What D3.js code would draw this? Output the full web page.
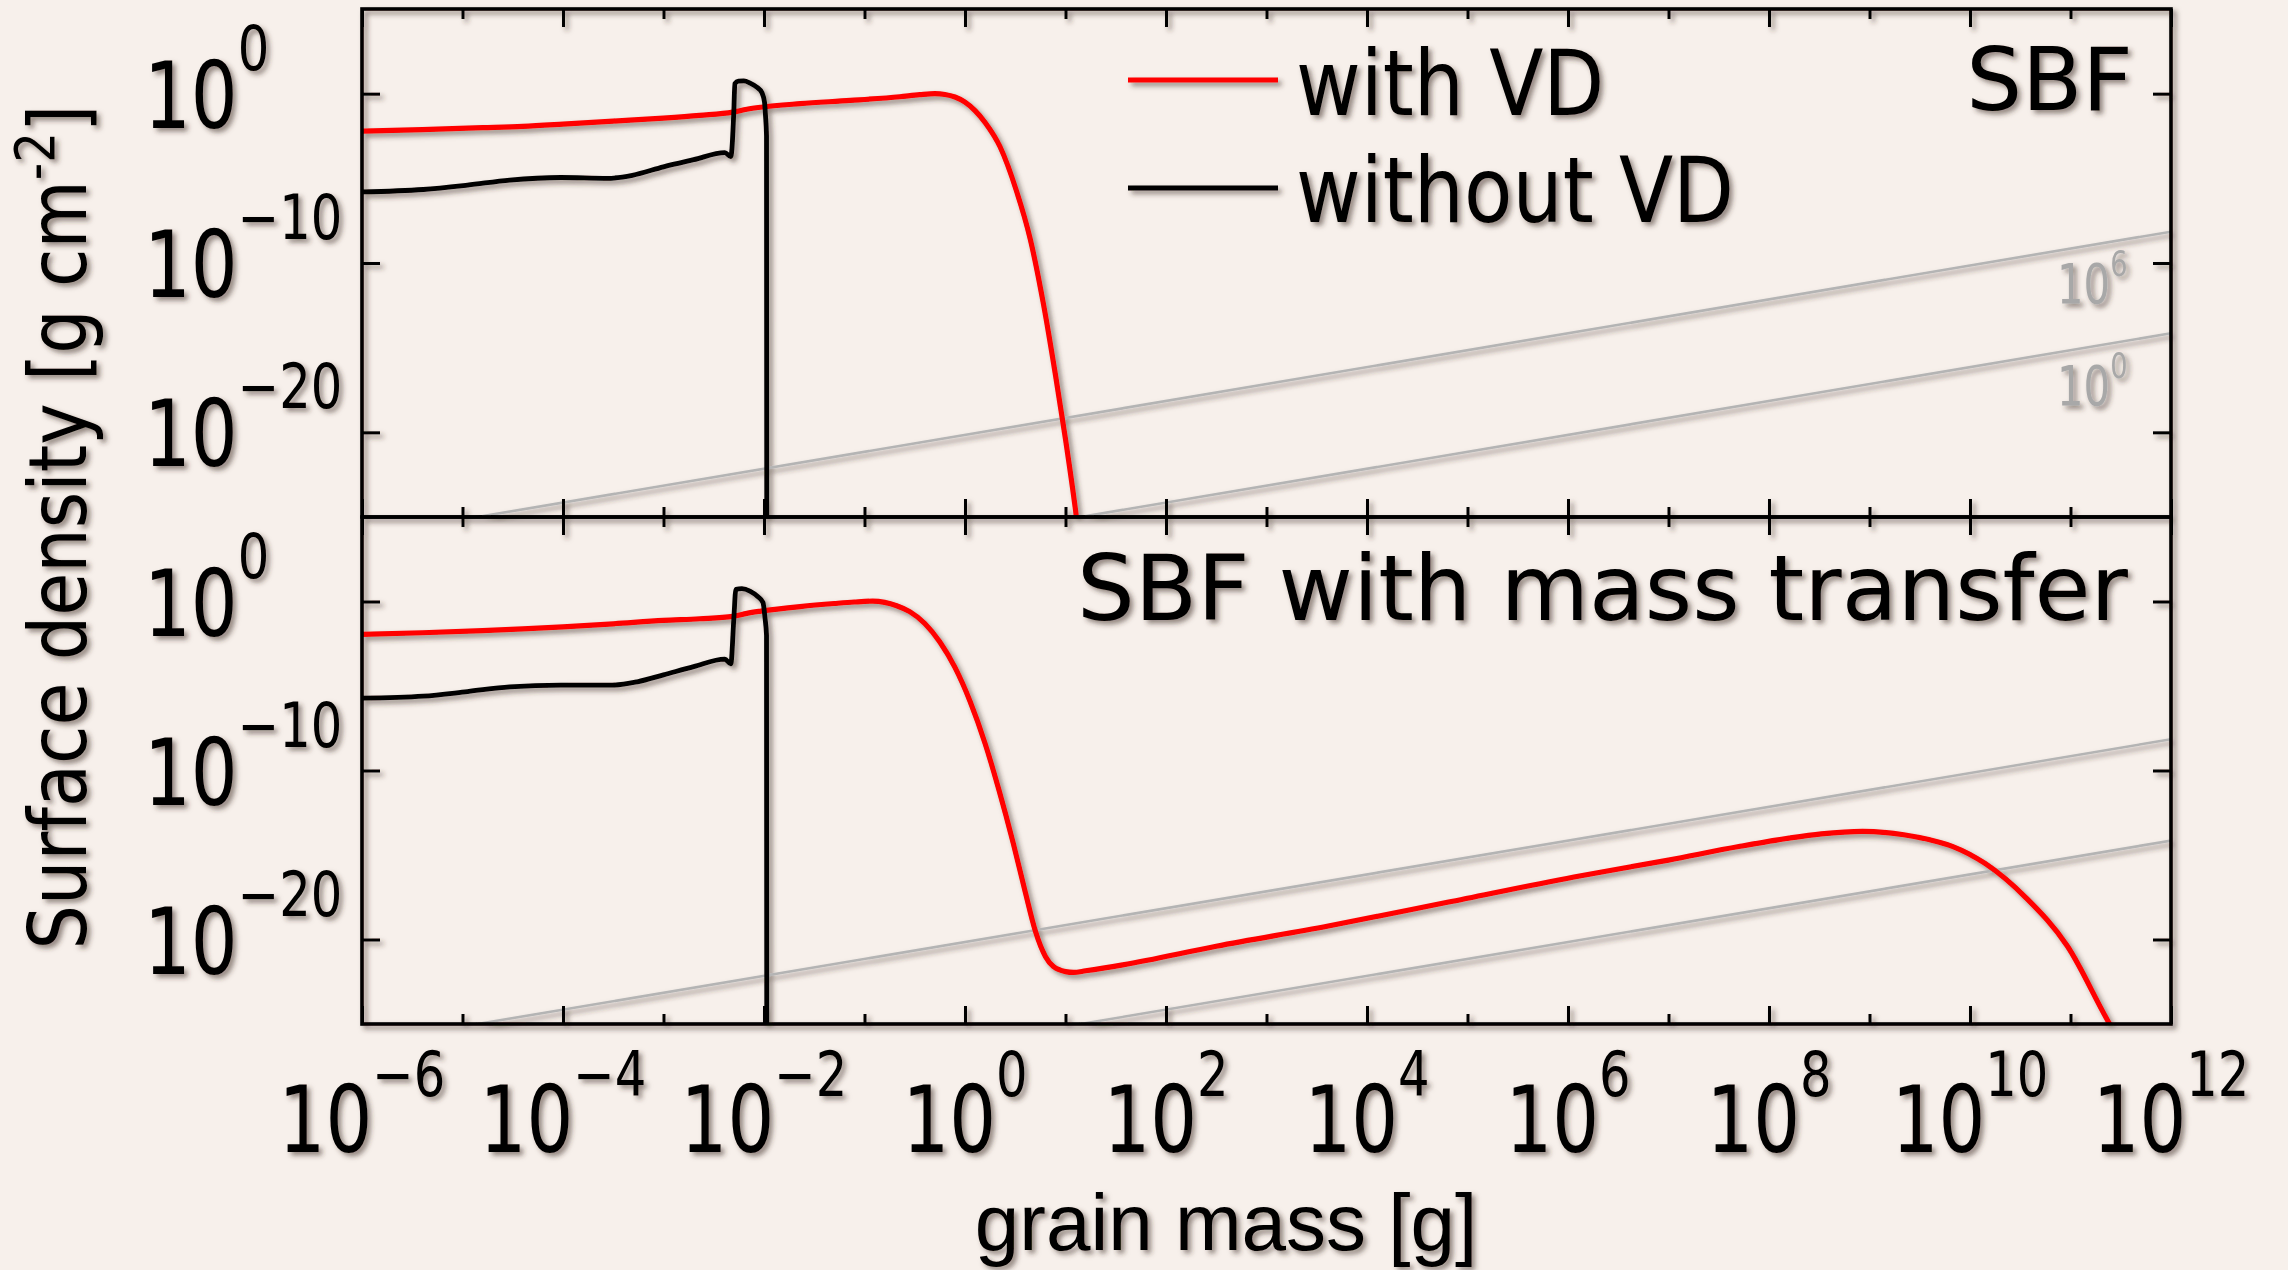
<!DOCTYPE html>
<html><head><meta charset="utf-8">
<script src="https://cdn.jsdelivr.net/npm/d3@7"></script>
<style>html,body{margin:0;padding:0;background:#f7f0eb;} svg{display:block}</style>
</head><body>
<svg id="chart" width="2288" height="1270"></svg>
<script>
// ---------- data (log10 of grain mass [g], log10 of surface density [g cm^-2]) ----------
const xTickExponents = [-6, -4, -2, 0, 2, 4, 6, 8, 10, 12];
const xMinorExponents = [-5, -3, -1, 1, 3, 5, 7, 9, 11];
const yTickExponents = [0, -10, -20];
const legendLabels = ["with VD", "without VD"];
const panelTitles = ["SBF", "SBF with mass transfer"];
const xAxisTitle = "grain mass [g]";
const yAxisTitle = "Surface density [g cm";
const refLineLabels = ["6", "0"];

const topWithVD = [[-6.0,-2.22],[-5.4,-2.12],[-4.8,-2.01],[-4.4,-1.93],[-4.0,-1.80],[-3.5,-1.62],[-3.0,-1.44],
  [-2.64,-1.28],[-2.31,-1.09],[-2.17,-0.92],[-2.03,-0.80],[-1.64,-0.59],[-1.14,-0.40],[-0.65,-0.18],
  [-0.45,-0.06],[-0.3,0.0],[-0.2,-0.05],[-0.1,-0.2],[0.0,-0.5],[0.1,-1.0],[0.2,-1.7],[0.35,-3.15],[0.51,-5.7],[0.65,-8.6],
  [0.78,-12.4],[0.9,-16.6],[1.0,-20.4],[1.1,-24.6],[1.16,-27.5]];
const topWithoutVD = [[-6.0,-5.80],[-5.39,-5.66],[-4.95,-5.40],[-4.53,-5.10],[-4.02,-4.95],[-3.56,-5.0],
  [-3.31,-4.82],[-3.0,-4.32],[-2.7,-3.9],[-2.39,-3.48],[-2.33,-3.72],[-2.30,-1.0],[-2.29,0.59],[-2.255,0.74],
  [-2.2,0.75],[-2.14,0.63],[-2.07,0.38],[-2.02,0.05],[-1.995,-0.5],[-1.985,-1.3],[-1.975,-2.5],[-1.972,-30]];
const bottomWithVD = [[-6.0,-1.95],[-5.4,-1.85],[-4.8,-1.72],[-4.4,-1.62],[-4.0,-1.5],[-3.5,-1.32],[-3.0,-1.12],
  [-2.64,-1.02],[-2.31,-0.88],[-2.17,-0.70],[-2.03,-0.57],[-1.64,-0.30],[-1.3,-0.12],[-1.1,-0.03],[-0.92,0.02],
  [-0.8,-0.05],[-0.68,-0.25],[-0.55,-0.6],[-0.4,-1.3],[-0.25,-2.4],[-0.1,-3.9],[0.05,-5.9],[0.2,-8.4],
  [0.34,-11.2],[0.48,-14.3],[0.6,-17.2],[0.7,-19.5],[0.8,-21.0],[0.88,-21.6],[1.0,-21.9],[1.08,-21.95],
  [1.2,-21.85],[1.57,-21.5],[2.5,-20.4],[3.615,-19.2],[4.8,-17.8],[6.06,-16.3],[7.0,-15.3],[7.7,-14.5],
  [8.2,-14.0],[8.52,-13.75],[8.93,-13.6],[9.34,-13.8],[9.6,-14.1],[9.83,-14.5],[10.15,-15.5],[10.56,-17.55],
  [10.97,-20.4],[11.39,-25.0],[11.45,-25.6]];
const bottomWithoutVD = [[-6.0,-5.72],[-5.39,-5.6],[-4.95,-5.33],[-4.53,-5.05],[-4.02,-4.95],[-3.51,-4.95],
  [-3.26,-4.75],[-3.0,-4.34],[-2.7,-3.85],[-2.39,-3.41],[-2.33,-3.69],[-2.30,-1.0],[-2.28,0.72],[-2.22,0.76],
  [-2.14,0.62],[-2.06,0.28],[-2.01,-0.06],[-1.99,-0.98],[-1.975,-2.0],[-1.972,-30]];
const refLineUpper = [[-6, -26.15], [12, -8.15]];
const refLineLower = [[-6, -32.15], [12, -14.15]];

// ---------- drawing ----------
const W = 2288, H = 1270;
const svg = d3.select("#chart");
svg.append("rect").attr("width", W).attr("height", H).attr("fill", "#f7f0eb");
const defs = svg.append("defs");
const filt = defs.append("filter").attr("id", "shadow").attr("filterUnits", "userSpaceOnUse")
  .attr("x", 0).attr("y", 0).attr("width", W).attr("height", H);
filt.append("feDropShadow").attr("dx", 3.5).attr("dy", 3.5).attr("stdDeviation", 2.5)
  .attr("flood-color", "#3e3028").attr("flood-opacity", 0.55);

const root = svg.append("g").attr("filter", "url(#shadow)");
const left = 362, right = 2171;
const x = d3.scaleLog().domain([1e-6, 1e12]).range([left, right]);

const panels = [
  {top: 9, bottom: 517, red: topWithVD, black: topWithoutVD},
  {top: 517, bottom: 1024, red: bottomWithVD, black: bottomWithoutVD}
];

const supText = e => (e < 0 ? "\u2212" + (-e) : String(e));

panels.forEach((p, i) => {
  const y = d3.scaleLog().domain([1e-25, 1e5]).range([p.bottom, p.top]);
  const clipId = "clip" + i;
  defs.append("clipPath").attr("id", clipId).append("rect")
    .attr("x", left).attr("y", p.top).attr("width", right - left).attr("height", p.bottom - p.top);
  const line = d3.line().x(d => x(Math.pow(10, d[0]))).y(d => y(Math.pow(10, d[1]))).curve(d3.curveMonotoneX);
  const g = root.append("g");
  const pg = g.append("g").attr("clip-path", `url(#${clipId})`);
  [refLineUpper, refLineLower].forEach(r => {
    pg.append("path").attr("d", d3.line().x(d => x(Math.pow(10, d[0]))).y(d => y(Math.pow(10, d[1])))(r))
      .attr("fill", "none").attr("stroke", "#b4b4b4").attr("stroke-width", 2.6);
  });
  pg.append("path").attr("d", line(p.red)).attr("fill", "none").attr("stroke", "#ff0000")
    .attr("stroke-width", 5.2).attr("stroke-linejoin", "round");
  pg.append("path").attr("d", line(p.black)).attr("fill", "none").attr("stroke", "#000")
    .attr("stroke-width", 4.8).attr("stroke-linejoin", "round");

  // axes (ticks inward)
  const styleAx = sel => { sel.select(".domain").remove(); sel.selectAll("line").attr("stroke", "#000").attr("stroke-width", 3); };
  const xt = xTickExponents.map(e => Math.pow(10, e)), xm = xMinorExponents.map(e => Math.pow(10, e));
  g.append("g").attr("transform", `translate(0,${p.bottom})`).call(d3.axisBottom(x).tickValues(xt).tickSizeInner(-18).tickSizeOuter(0).tickFormat("")).call(styleAx);
  g.append("g").attr("transform", `translate(0,${p.bottom})`).call(d3.axisBottom(x).tickValues(xm).tickSizeInner(-10).tickSizeOuter(0).tickFormat("")).call(styleAx);
  g.append("g").attr("transform", `translate(0,${p.top})`).call(d3.axisTop(x).tickValues(xt).tickSizeInner(-18).tickSizeOuter(0).tickFormat("")).call(styleAx);
  g.append("g").attr("transform", `translate(0,${p.top})`).call(d3.axisTop(x).tickValues(xm).tickSizeInner(-10).tickSizeOuter(0).tickFormat("")).call(styleAx);
  const yt = yTickExponents.map(e => Math.pow(10, e));
  g.append("g").attr("transform", `translate(${left},0)`).call(d3.axisLeft(y).tickValues(yt).tickSizeInner(-18).tickSizeOuter(0).tickFormat("")).call(styleAx);
  g.append("g").attr("transform", `translate(${right},0)`).call(d3.axisRight(y).tickValues(yt).tickSizeInner(-18).tickSizeOuter(0).tickFormat("")).call(styleAx);

  g.append("rect").attr("x", left).attr("y", p.top).attr("width", right - left).attr("height", p.bottom - p.top)
    .attr("fill", "none").attr("stroke", "#000").attr("stroke-width", 3.6);

  // y tick labels
  yTickExponents.forEach(e => {
    const t = g.append("text").attr("transform", `translate(144,${y(Math.pow(10, e)) + 34}) scale(0.8,1)`)
      .attr("font-family", "DejaVu Sans").attr("font-size", 92).attr("fill", "#000");
    t.append("tspan").text("10");
    t.append("tspan").attr("font-size", 62).attr("dy", -58).text(supText(e));
  });

  // reference line labels (only in top panel)
  if (i === 0) {
    [refLineUpper, refLineLower].forEach((r, k) => {
      const baseY = [303, 405][k];
      const t = g.append("text").attr("transform", `translate(2057,${baseY}) scale(0.76,1)`)
        .attr("font-family", "DejaVu Sans").attr("font-size", 55).attr("fill", "#a8a8a8");
      t.append("tspan").text("10");
      t.append("tspan").attr("font-size", 36).attr("dy", -27).text(refLineLabels[k]);
    });
  }
});

// x tick labels
xTickExponents.forEach(e => {
  const t = root.append("text").attr("transform", `translate(${x(Math.pow(10, e))},1152) scale(0.8,1)`)
    .attr("text-anchor", "middle").attr("font-family", "DejaVu Sans").attr("font-size", 92).attr("fill", "#000");
  t.append("tspan").text("10");
  t.append("tspan").attr("font-size", 62).attr("dy", -56).text(supText(e));
});

// axis titles
root.append("text").attr("x", 1226).attr("y", 1250).attr("text-anchor", "middle")
  .attr("font-family", "Liberation Sans").attr("font-size", 80).attr("fill", "#000").text(xAxisTitle);
const yt = root.append("text").attr("transform", "translate(86,527) rotate(-90) scale(0.865,1)")
  .attr("text-anchor", "middle").attr("font-family", "DejaVu Sans").attr("font-size", 81).attr("fill", "#000");
yt.append("tspan").text(yAxisTitle);
yt.append("tspan").attr("font-size", 56).attr("dy", -32).text("-2");
yt.append("tspan").attr("font-size", 81).attr("dy", 32).text("]");

// panel titles
root.append("text").attr("x", 2133).attr("y", 110).attr("text-anchor", "end")
  .attr("font-family", "DejaVu Sans").attr("font-size", 88).attr("fill", "#000").text(panelTitles[0]);
root.append("text").attr("x", 2128).attr("y", 620).attr("text-anchor", "end")
  .attr("font-family", "DejaVu Sans").attr("font-size", 91).attr("fill", "#000").text(panelTitles[1]);

// legend
const legendColors = ["#ff0000", "#000000"];
legendLabels.forEach((lab, k) => {
  const ly = [80, 188][k], by = [115, 222][k];
  root.append("line").attr("x1", 1128).attr("x2", 1278).attr("y1", ly).attr("y2", ly)
    .attr("stroke", legendColors[k]).attr("stroke-width", 4.8);
  root.append("text").attr("transform", `translate(1296,${by}) scale(0.88,1)`)
    .attr("font-family", "DejaVu Sans").attr("font-size", 90).attr("fill", "#000").text(lab);
});
</script>
</body></html>
